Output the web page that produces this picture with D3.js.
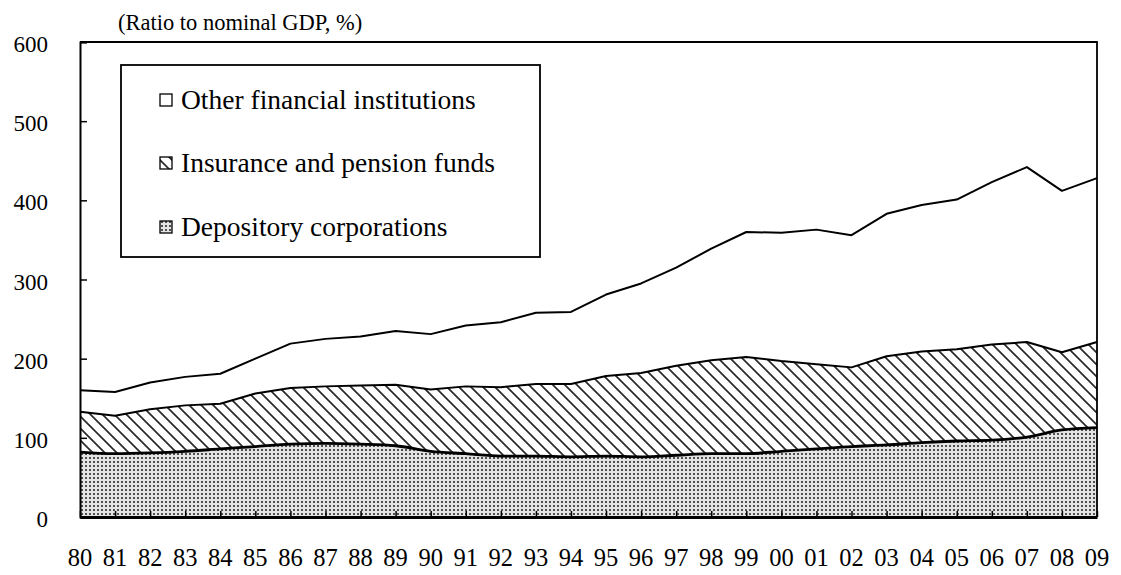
<!DOCTYPE html>
<html>
<head>
<meta charset="utf-8">
<script src="https://cdn.jsdelivr.net/npm/d3@7"></script>
<style>
  html, body { margin: 0; padding: 0; background: #fff; }
  svg { display: block; }
</style>
</head>
<body>
<svg id="chart" width="1121" height="575"></svg>
<script>
const years = ["80","81","82","83","84","85","86","87","88","89","90","91","92","93","94","95","96","97","98","99","00","01","02","03","04","05","06","07","08","09"];
const depository = [82, 80, 81, 83, 86, 89, 92, 93, 92, 90, 83, 80, 77, 77, 76, 77, 76, 78, 80, 80, 83, 86, 89, 91, 94, 96, 97, 101, 110, 113];
const insurance = [51, 48, 55, 58, 57, 67, 71, 72, 74, 77, 78, 85, 87, 91, 92, 101, 106, 113, 118, 122, 114, 107, 100, 112, 115, 116, 121, 120, 98, 108];
const other = [27, 30, 34, 36, 38, 44, 56, 60, 62, 68, 70, 77, 82, 90, 91, 103, 113, 124, 141, 158, 162, 170, 167, 180, 185, 189, 205, 221, 204, 207];
const yTicks = [0, 100, 200, 300, 400, 500, 600];
const seriesNames = ["Depository corporations", "Insurance and pension funds", "Other financial institutions"];
const unitLabel = "(Ratio to nominal GDP, %)";

const FONT = "'Liberation Serif', 'Times New Roman', 'DejaVu Serif', serif";
const svg = d3.select("#chart");
const L = 80, R = 1097, T = 42, B = 517;

// patterns
const defs = svg.append("defs");
const dots = defs.append("pattern").attr("id", "dots").attr("patternUnits", "userSpaceOnUse")
  .attr("width", 4).attr("height", 4);
dots.append("rect").attr("width", 4).attr("height", 4).attr("fill", "#e4e4e4");
dots.append("rect").attr("x", 1).attr("y", 1).attr("width", 2).attr("height", 2).attr("fill", "#505050");

const hatch = defs.append("pattern").attr("id", "hatch").attr("patternUnits", "userSpaceOnUse")
  .attr("width", 12).attr("height", 12);
hatch.append("rect").attr("width", 12).attr("height", 12).attr("fill", "#fff");
hatch.append("path").attr("d", "M-3,-3 L15,15 M-3,9 L3,15 M9,-3 L15,3")
  .attr("stroke", "#2a2a2a").attr("stroke-width", 1.7);

const fills = ["url(#dots)", "url(#hatch)", "#fff"];

const data = years.map((y, i) => ({ year: y, d: depository[i], ins: insurance[i], oth: other[i] }));
const stack = d3.stack().keys(["d", "ins", "oth"]);
const layers = stack(data);

const x = d3.scalePoint().domain(years).range([L, R]);
const y = d3.scaleLinear().domain([0, 600]).range([B, T]);

const curveFor = i => i === 0 ? d3.curveMonotoneX : d3.curveLinear;
const areaFor = i => d3.area().curve(curveFor(i)).x(d => x(d.data.year)).y0(y(0)).y1(d => y(d[1]));
const lineFor = i => d3.line().curve(curveFor(i)).x(d => x(d.data.year)).y(d => y(d[1]));

// areas, drawn from the top layer down so each covers the ones above it
const order = [2, 1, 0];
svg.append("g").selectAll("path").data(order).join("path")
  .attr("d", i => areaFor(i)(layers[i])).attr("fill", i => fills[i]).attr("stroke", "none");

// top edges of each layer
svg.append("g").selectAll("path").data(order).join("path")
  .attr("d", i => lineFor(i)(layers[i])).attr("fill", "none").attr("stroke", "#000")
  .attr("stroke-width", i => i === 0 ? 2.8 : 2)
  .attr("stroke-linejoin", "round");

// frame: top and right
svg.append("path").attr("d", `M${L},${T} H${R} V${B}`).attr("fill", "none")
  .attr("stroke", "#000").attr("stroke-width", 1.8);

// y axis
const yAxis = d3.axisRight(y).tickValues(yTicks).tickSize(7).tickFormat("");
const gy = svg.append("g").attr("transform", `translate(${L},0)`).call(yAxis);
gy.select(".domain").attr("stroke", "#000").attr("stroke-width", 2);
gy.selectAll(".tick line").attr("stroke", "#000").attr("stroke-width", 1.5);
svg.append("g").selectAll("text").data(yTicks).join("text")
  .attr("x", 48).attr("y", d => y(d) + 10).attr("text-anchor", "end")
  .attr("font-family", FONT).attr("font-size", 23).text(d => d);

// x axis
const xAxis = d3.axisTop(x).tickSize(6).tickSizeOuter(0).tickFormat("");
const gx = svg.append("g").attr("transform", `translate(0,${B})`).call(xAxis);
gx.select(".domain").attr("stroke", "#000").attr("stroke-width", 2.8);
gx.selectAll(".tick line").attr("stroke", "#000").attr("stroke-width", 1.5);
svg.append("g").selectAll("text").data(years).join("text")
  .attr("x", d => x(d)).attr("y", 566).attr("text-anchor", "middle")
  .attr("font-family", FONT).attr("font-size", 24.5).text(d => d);

// unit label
svg.append("text").attr("x", 118).attr("y", 30).attr("font-family", FONT)
  .attr("font-size", 22.5).text(unitLabel);

// legend
const lg = svg.append("g");
lg.append("rect").attr("x", 121).attr("y", 65).attr("width", 419).attr("height", 192)
  .attr("fill", "#fff").attr("stroke", "#000").attr("stroke-width", 1.8);
const legendItems = [
  { name: seriesNames[2], fill: fills[2], cy: 100 },
  { name: seriesNames[1], fill: fills[1], cy: 163 },
  { name: seriesNames[0], fill: fills[0], cy: 227 }
];
const li = lg.selectAll("g").data(legendItems).join("g");
li.append("rect").attr("x", 160).attr("y", d => d.cy - 6).attr("width", 12).attr("height", 12)
  .attr("fill", d => d.fill).attr("stroke", "#000").attr("stroke-width", 1.3);
li.append("text").attr("x", 181).attr("y", d => d.cy + 9).attr("font-family", FONT)
  .attr("font-size", 27.5).text(d => d.name);
</script>
</body>
</html>
